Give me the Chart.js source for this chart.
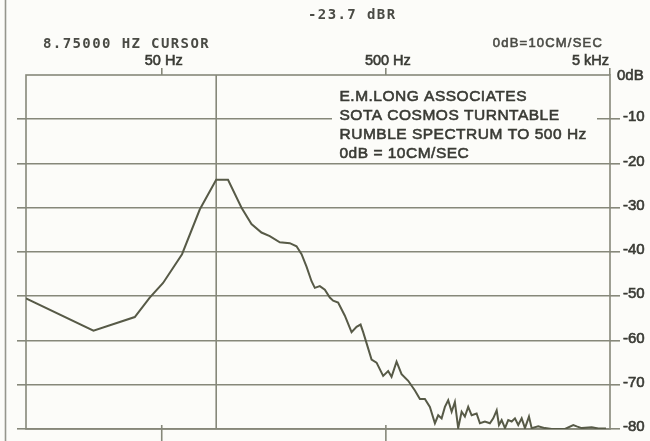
<!DOCTYPE html>
<html>
<head>
<meta charset="utf-8">
<title>Rumble spectrum</title>
<script src="https://cdn.jsdelivr.net/npm/chart.js@4/dist/chart.umd.min.js"></script>
<style>
  html, body { margin: 0; padding: 0; background: #fcfcf9; }
  #wrap { width: 650px; height: 441px; }
</style>
</head>
<body>
<div id="wrap"><canvas id="c" width="650" height="441"></canvas></div>
<script>
// Rumble spectrum (frequency in Hz, level in dB re 10 cm/s)
const freqHz = [12.4, 24.8, 37.9, 44.2, 50.7, 61.6, 73.9, 87.5, 98.8, 113.5, 125.7, 139.3,
  151.7, 168.2, 186.4, 199.7, 210.3, 221.3, 233.0, 241.0, 253.7, 267.1, 281.2, 290.9,
  306.2, 328.1, 351.5, 370.0, 385.6, 396.0, 410.0, 431.7, 454.4, 486.3, 512.0, 530.1,
  558.1, 587.5, 628.9, 673.8, 709.3, 746.7, 785.9, 827.6, 856.2, 886.6, 917.1, 948.7,
  982.8, 1016, 1051, 1089, 1126, 1165, 1207, 1270, 1314, 1383, 1456, 1507, 1561, 1598,
  1643, 1700, 1758, 1821, 1883, 1948, 2018, 2087, 2175, 2236, 2393, 2563, 2746, 3149,
  3429, 3551, 3739, 4143, 4434, 4798];
const levelDb = [-50.5, -57.8, -54.7, -50.3, -47.0, -40.5, -30.4, -23.7, -23.7, -30.0, -33.7, -35.6,
  -36.4, -37.8, -38.0, -38.7, -40.5, -43.3, -46.6, -48.1, -47.7, -48.5, -50.3, -51.0,
  -51.4, -54.4, -58.1, -56.9, -56.4, -58.1, -60.6, -64.3, -65.0, -68.0, -66.9, -68.2,
  -64.8, -67.6, -69.1, -71.3, -73.2, -73.2, -75.0, -78.7, -76.9, -77.6, -75.0, -73.5,
  -76.1, -73.9, -79.8, -76.1, -77.2, -75.0, -76.9, -76.5, -78.7, -78.3, -78.7, -77.6,
  -75.8, -79.1, -78.0, -79.8, -78.0, -78.3, -77.6, -79.1, -77.6, -79.8, -77.2, -79.8,
  -79.4, -79.8, -80.0, -80.0, -79.1, -79.4, -79.8, -79.6, -79.9, -79.9];

const cursorHz = 87.5;
const cursorText = '8.75000 HZ CURSOR';
const refText = '0dB=10CM/SEC';
const xTickHz = [50, 500, 5000];
const xTickLabels = ['50 Hz', '500 Hz', '5 kHz'];
const bottomTickHz = [50, 500];
const yTicksDb = [-10, -20, -30, -40, -50, -60, -70, -80];
const yTopLabel = '0dB';
const noteLines = ['E.M.LONG ASSOCIATES', 'SOTA COSMOS TURNTABLE', 'RUMBLE SPECTRUM TO 500 Hz', '0dB = 10CM/SEC'];

const cursorIndex = freqHz.indexOf(cursorHz);
const readoutText = levelDb[cursorIndex].toFixed(1) + ' dBR';

const GRID = '#86887a';
const TRACE = '#575a47';
const INK = '#3a3b35';
const PAPER = '#fcfcf9';
const X_MIN = 12.4, X_MAX = 5000;

const setTicks = vals => scale => { scale.ticks = vals.map(v => ({ value: v })); };

// filled text with a thin outline of the same colour, for a heavier print look
function inkText(ctx, text, x, y, weight) {
  ctx.fillText(text, x, y);
  ctx.lineWidth = weight;
  ctx.strokeStyle = ctx.fillStyle;
  ctx.strokeText(text, x, y);
}

const panel = {
  id: 'panel',
  beforeDraw(chart) {
    const ctx = chart.ctx;
    ctx.save();
    ctx.fillStyle = PAPER;
    ctx.fillRect(0, 0, chart.width, chart.height);
    // page edge rule on the far left
    ctx.strokeStyle = '#95968d';
    ctx.lineWidth = 1.6;
    ctx.beginPath();
    ctx.moveTo(5.5, 0);
    ctx.lineTo(5.5, chart.height);
    ctx.stroke();
    ctx.restore();
  },
  beforeDatasetsDraw(chart) {
    const ctx = chart.ctx;
    const a = chart.chartArea;
    const xs = chart.scales.x;
    ctx.save();
    // plot frame
    ctx.strokeStyle = GRID;
    ctx.lineWidth = 1.6;
    ctx.strokeRect(a.left, a.top, a.right - a.left, a.bottom - a.top);
    // cursor line
    const cx = xs.getPixelForValue(cursorHz);
    ctx.beginPath();
    ctx.moveTo(cx, a.top);
    ctx.lineTo(cx, a.bottom);
    ctx.stroke();
    // bottom tick marks
    for (const f of bottomTickHz) {
      const px = xs.getPixelForValue(f);
      ctx.beginPath();
      ctx.moveTo(px, a.bottom - 4);
      ctx.lineTo(px, chart.height);
      ctx.stroke();
    }
    // blank panel behind the note
    ctx.fillStyle = PAPER;
    ctx.fillRect(332, a.top + 4, 265, 82);
    ctx.restore();
  },
  afterDraw(chart) {
    const ctx = chart.ctx;
    const a = chart.chartArea;
    const xs = chart.scales.x;
    ctx.save();
    ctx.fillStyle = '#4a4b45';
    ctx.textBaseline = 'alphabetic';
    // analyser readouts
    ctx.font = 'bold 14px "DejaVu Sans Mono"';
    ctx.letterSpacing = '1.4px';
    ctx.textAlign = 'left';
    ctx.fillText(readoutText, 308, 19);
    ctx.fillText(cursorText, 43, 48);
    ctx.font = '13px "Liberation Sans"';
    ctx.letterSpacing = '1.2px';
    ctx.textAlign = 'right';
    inkText(ctx, refText, 603, 47, 0.6);
    // frequency labels
    ctx.fillStyle = INK;
    ctx.letterSpacing = '0px';
    ctx.font = '14.5px "Liberation Sans"';
    xTickHz.forEach((f, i) => {
      const px = xs.getPixelForValue(f);
      if (i === xTickHz.length - 1) {
        ctx.textAlign = 'right';
        inkText(ctx, xTickLabels[i], px - 1, 65, 0.6);
      } else {
        ctx.textAlign = 'center';
        inkText(ctx, xTickLabels[i], px + 2, 65, 0.6);
      }
    });
    // top level label
    ctx.font = '15px "Liberation Sans"';
    ctx.textAlign = 'left';
    inkText(ctx, yTopLabel, 617, a.top + 5, 0.6);
    // note
    ctx.font = '15.5px "Liberation Sans"';
    ctx.letterSpacing = '0.5px';
    noteLines.forEach((t, i) => inkText(ctx, t, 339.5, 101 + 19 * i, 0.6));
    ctx.restore();
  }
};

new Chart(document.getElementById('c'), {
  type: 'line',
  data: {
    datasets: [{
      data: freqHz.map((f, i) => ({ x: f, y: levelDb[i] })),
      borderColor: TRACE,
      borderWidth: 2,
      pointRadius: 0,
      tension: 0,
      fill: false,
      xAxisID: 'x',
      yAxisID: 'y'
    }]
  },
  options: {
    responsive: false,
    animation: false,
    events: [],
    layout: { padding: 0 },
    plugins: { legend: { display: false }, tooltip: { enabled: false } },
    scales: {
      x: {
        type: 'logarithmic', position: 'top', min: X_MIN, max: X_MAX,
        afterBuildTicks: setTicks(xTickHz),
        afterFit: s => { s.height = 75; },
        border: { display: false },
        grid: { drawOnChartArea: false, drawTicks: true, tickLength: 7, color: GRID, lineWidth: 1.6 },
        ticks: { display: false }
      },
      xb: {
        type: 'logarithmic', position: 'bottom', min: X_MIN, max: X_MAX,
        afterBuildTicks: setTicks([]),
        afterFit: s => { s.height = 5; },
        border: { display: false },
        grid: { display: false },
        ticks: { display: false }
      },
      y: {
        type: 'linear', position: 'right', min: -80, max: 0,
        afterBuildTicks: setTicks(yTicksDb),
        afterFit: s => { s.width = 40; },
        border: { display: false },
        grid: { color: GRID, lineWidth: 1.6, tickLength: 10 },
        ticks: {
          color: INK, padding: 3, labelOffset: -2,
          textStrokeColor: INK, textStrokeWidth: 0.6,
          font: { family: 'Liberation Sans', size: 15 },
          callback: v => String(v)
        }
      },
      yl: {
        type: 'linear', position: 'left', min: -80, max: 0,
        afterBuildTicks: setTicks(yTicksDb),
        afterFit: s => { s.width = 26; },
        border: { display: false },
        grid: { drawOnChartArea: false, color: GRID, lineWidth: 1.6, tickLength: 9 },
        ticks: { display: false }
      }
    }
  },
  plugins: [panel]
});
</script>
</body>
</html>
